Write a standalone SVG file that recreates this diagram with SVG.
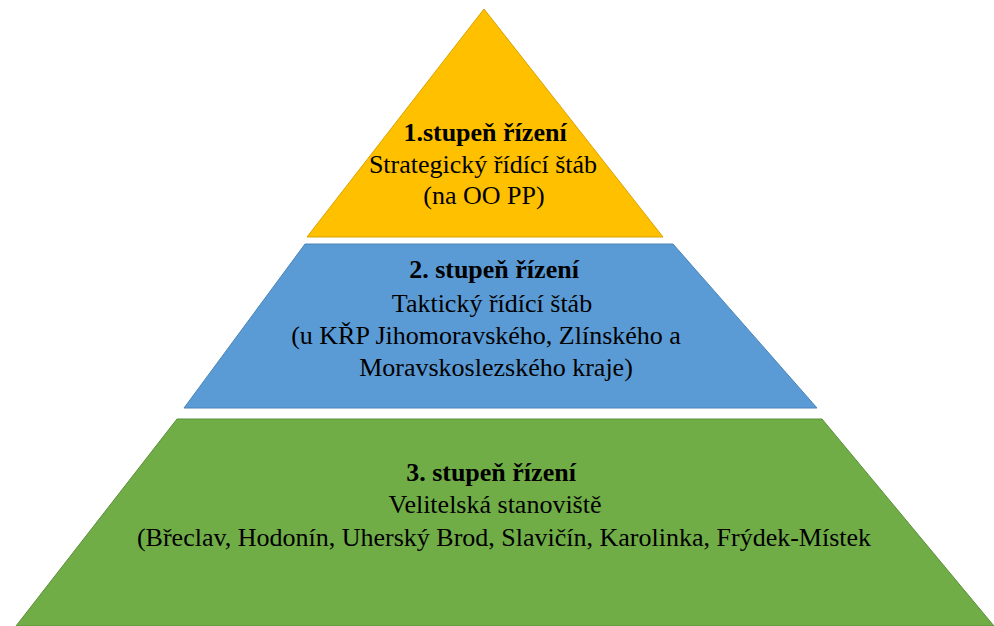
<svg xmlns="http://www.w3.org/2000/svg" width="994" height="626" viewBox="0 0 994 626">
<style>
.t{font-family:"Liberation Serif","Times New Roman",serif;font-size:26px;fill:#000;text-anchor:middle}
.b{font-weight:bold}
.y{fill:#FFC000;stroke:#D9A300;stroke-width:1}
.bl{fill:#5B9BD5;stroke:#4A84B8;stroke-width:1}
.g{fill:#70AD47;stroke:#5B9039;stroke-width:1}
</style>
<rect width="994" height="626" fill="#fff"/>
<g id="level1">
<polygon class="y" points="484,9 663,237 307,237"/>
<text class="t b" x="485" y="141">1.stupeň řízení</text>
<text class="t" x="483" y="173">Strategický řídící štáb</text>
<text class="t" x="484" y="204">(na OO PP)</text>
</g>
<g id="level2">
<polygon class="bl" points="305,244 673,244 817,408 184,408"/>
<text class="t b" x="494" y="278">2. stupeň řízení</text>
<text class="t" x="492" y="312">Taktický řídící štáb</text>
<text class="t" x="486" y="344">(u KŘP Jihomoravského, Zlínského a</text>
<text class="t" x="496" y="376">Moravskoslezského kraje)</text>
</g>
<g id="level3">
<polygon class="g" points="177,419 822,419 994,626 16,626"/>
<text class="t b" x="491" y="481">3. stupeň řízení</text>
<text class="t" x="495" y="513">Velitelská stanoviště</text>
<text class="t" x="504" y="546">(Břeclav, Hodonín, Uherský Brod, Slavičín, Karolinka, Frýdek-Místek</text>
</g>
<g id="connectors"></g>
</svg>
